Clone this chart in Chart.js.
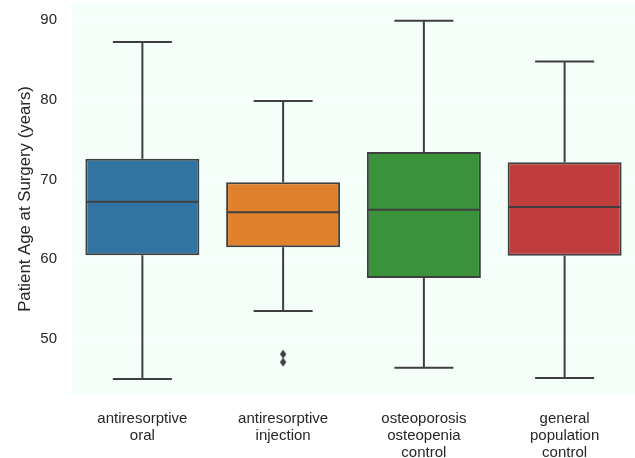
<!DOCTYPE html>
<html>
<head>
<meta charset="utf-8">
<script src="https://cdn.jsdelivr.net/npm/chart.js@4"></script>
<style>
  html, body { margin: 0; padding: 0; background: #ffffff; }
  #wrap { width: 635px; height: 458px; }
</style>
</head>
<body>
<div id="wrap"><canvas id="c" width="635" height="458"></canvas></div>
<script>
const categories = [
  ['antiresorptive', 'oral'],
  ['antiresorptive', 'injection'],
  ['osteoporosis', 'osteopenia', 'control'],
  ['general', 'population', 'control']
];
const whiskerLow  = [45.0, 53.5, 46.4, 45.1];
const q1          = [60.5, 61.5, 57.65, 60.45];
const median      = [67.2, 65.9, 66.2, 66.55];
const q3          = [72.6, 69.65, 73.45, 72.15];
const whiskerHigh = [87.25, 79.85, 89.9, 84.8];
const outlierCat  = [1, 1];
const outlierVal  = [48.1, 47.1];
const yTicks      = [50, 60, 70, 80, 90];

const boxColors = ['#3274a1', '#e1812c', '#3a923a', '#c03d3e'];
const edge = '#3f3f3f';
const FONT = '"Liberation Sans", Arial, sans-serif';

// thin diamond marker
const marker = document.createElement('canvas');
marker.width = 8; marker.height = 10;
(function () {
  const g = marker.getContext('2d');
  g.fillStyle = edge;
  g.beginPath();
  g.moveTo(4, 0.5); g.lineTo(7.2, 5); g.lineTo(4, 9.5); g.lineTo(0.8, 5);
  g.closePath(); g.fill();
})();

const bgPlugin = {
  id: 'bg',
  beforeDraw(chart) {
    const { ctx, chartArea: a } = chart;
    ctx.save();
    ctx.fillStyle = '#f5fffa';
    ctx.fillRect(a.left, a.top, a.right - a.left, a.bottom - a.top);
    ctx.restore();
  }
};

const boxPlugin = {
  id: 'boxparts',
  afterDatasetsDraw(chart) {
    const { ctx } = chart;
    const xs = chart.scales.x, ys = chart.scales.y;
    const meta = chart.getDatasetMeta(0);
    ctx.save();
    ctx.strokeStyle = edge;
    ctx.lineWidth = 2;
    categories.forEach((c, i) => {
      const x = xs.getPixelForValue(i);
      const bar = meta.data[i];
      const halfBox = bar.width / 2;
      const halfCap = halfBox / 2;
      const yLo = ys.getPixelForValue(whiskerLow[i]);
      const yQ1 = ys.getPixelForValue(q1[i]);
      const yQ3 = ys.getPixelForValue(q3[i]);
      const yHi = ys.getPixelForValue(whiskerHigh[i]);
      const yMed = ys.getPixelForValue(median[i]);
      ctx.lineCap = 'butt';
      ctx.beginPath();
      ctx.moveTo(x, yQ3); ctx.lineTo(x, yHi);
      ctx.moveTo(x, yQ1); ctx.lineTo(x, yLo);
      ctx.stroke();
      ctx.lineCap = 'square';
      ctx.beginPath();
      ctx.moveTo(x - halfCap, yHi); ctx.lineTo(x + halfCap, yHi);
      ctx.moveTo(x - halfCap, yLo); ctx.lineTo(x + halfCap, yLo);
      ctx.stroke();
      ctx.lineCap = 'butt';
      ctx.beginPath();
      ctx.moveTo(x - halfBox + 1, yMed); ctx.lineTo(x + halfBox - 1, yMed);
      ctx.stroke();
    });
    ctx.restore();
  }
};

const outlierSets = outlierVal.map((v, k) => ({
  type: 'line',
  data: categories.map((c, i) => (i === outlierCat[k] ? v : null)),
  showLine: false,
  pointStyle: marker,
  pointRadius: 5,
  order: 1
}));

new Chart(document.getElementById('c'), {
  data: {
    labels: categories,
    datasets: [
      {
        type: 'bar',
        data: categories.map((c, i) => [q1[i], q3[i]]),
        backgroundColor: boxColors,
        borderColor: edge,
        borderWidth: 2,
        borderSkipped: false,
        categoryPercentage: 1.0,
        barPercentage: 0.81,
        order: 2
      },
      ...outlierSets
    ]
  },
  options: {
    responsive: false,
    animation: false,
    events: [],
    layout: { autoPadding: false, padding: { top: 3, right: 0, left: 0, bottom: 0 } },
    plugins: { legend: { display: false }, tooltip: { enabled: false } },
    scales: {
      x: {
        type: 'category',
        offset: true,
        grid: { display: false, drawTicks: false },
        border: { display: false },
        ticks: {
          color: '#262626',
          font: { family: FONT, size: 15, lineHeight: 1.13 },
          padding: 15,
          maxRotation: 0,
          autoSkip: false
        },
        afterFit(s) { s.height = 63; s.paddingLeft = 0; s.paddingRight = 0; }
      },
      y: {
        type: 'linear',
        min: 42.98,
        max: 92.13,
        grid: { color: '#ffffff', lineWidth: 1, drawTicks: false },
        border: { display: false },
        afterBuildTicks(s) { s.ticks = yTicks.map(v => ({ value: v })); },
        ticks: {
          color: '#262626',
          font: { family: FONT, size: 15 },
          padding: 15
        },
        title: {
          display: true,
          text: 'Patient Age at Surgery (years)',
          color: '#262626',
          font: { family: FONT, size: 16.8 },
          padding: { top: 15, bottom: 0 }
        },
        afterFit(s) { s.width = 72; s.paddingTop = 0; s.paddingBottom = 0; }
      }
    }
  },
  plugins: [bgPlugin, boxPlugin]
});
</script>
</body>
</html>
